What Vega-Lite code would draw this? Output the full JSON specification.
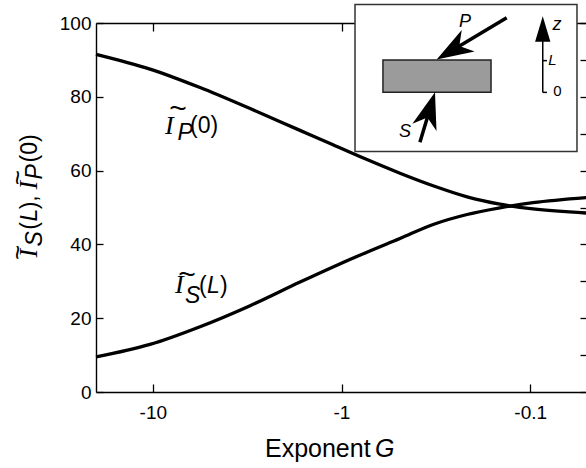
{
  "$schema": "https://vega.github.io/schema/vega-lite/v6.json",
  "width": 491,
  "height": 369,
  "autosize": "none",
  "padding": {"left": 96, "top": 23, "right": 0, "bottom": 76},
  "config": {"view": {"stroke": null}, "font": "Liberation Sans"},
  "resolve": {"axis": {"x": "independent", "y": "independent"}},
  "layer": [
    {
      "encoding": {
        "x": {"field": "G", "type": "quantitative",
          "scale": {"type": "log", "domain": [-20, -0.05], "nice": false},
          "axis": {"orient": "bottom", "title": null, "grid": false,
            "values": [-10, -1, -0.1],
            "labelExpr": "'-' + abs(datum.value)",
            "tickSize": -8,
            "labelPadding": 19, "labelFontSize": 19, "labelFont": "Liberation Sans", "labelColor": "black",
            "labelOverlap": false, "labelFlush": false, "labelBound": false,
            "domainColor": "black", "domainWidth": 1.4, "tickColor": "black", "tickWidth": 1.3}},
        "y": {"field": "v", "type": "quantitative",
          "scale": {"domain": [0, 100], "nice": false, "zero": false},
          "axis": {"orient": "left", "title": null, "grid": false,
            "values": [0, 20, 40, 60, 80, 100],
            "tickSize": -7,
            "labelPadding": 12, "labelFontSize": 19, "labelFont": "Liberation Sans", "labelColor": "black",
            "labelOverlap": false,
            "domainColor": "black", "domainWidth": 1.4, "tickColor": "black", "tickWidth": 1.3}}
      },
      "layer": [
        {
          "data": {"values": [
            {"G": -9}, {"G": -8}, {"G": -7}, {"G": -6}, {"G": -5}, {"G": -4}, {"G": -3}, {"G": -2},
            {"G": -0.9}, {"G": -0.8}, {"G": -0.7}, {"G": -0.6}, {"G": -0.5}, {"G": -0.4}, {"G": -0.3}, {"G": -0.2},
            {"G": -0.09}, {"G": -0.08}, {"G": -0.07}, {"G": -0.06}]},
          "mark": {"type": "rule", "color": "black", "strokeWidth": 1.3},
          "encoding": {"y": {"datum": 0}, "y2": {"datum": 1.36}}
        },
        {
          "data": {"values": [
            {"G": -9}, {"G": -8}, {"G": -7}, {"G": -6}, {"G": -5}, {"G": -4}, {"G": -3}, {"G": -2},
            {"G": -0.9}, {"G": -0.8}, {"G": -0.7}, {"G": -0.6}, {"G": -0.5}, {"G": -0.4}, {"G": -0.3}, {"G": -0.2},
            {"G": -0.09}, {"G": -0.08}, {"G": -0.07}, {"G": -0.06}]},
          "mark": {"type": "rule", "color": "black", "strokeWidth": 1.3},
          "encoding": {"y": {"datum": 100}, "y2": {"datum": 98.64}}
        },
        {
          "data": {"values": [{"v": 10}, {"v": 30}, {"v": 50}, {"v": 70}, {"v": 90}]},
          "mark": {"type": "rule", "color": "black", "strokeWidth": 1.3},
          "encoding": {"x": {"datum": -20}, "x2": {"datum": -19.05}}
        },
        {
          "data": {"values": [
            {"s": "P", "G": -20, "v": 91.5}, {"s": "P", "G": -10.35, "v": 87.5}, {"s": "P", "G": -5.62, "v": 82.5},
            {"s": "P", "G": -3.05, "v": 76.8}, {"s": "P", "G": -1.659, "v": 70.9}, {"s": "P", "G": -1.109, "v": 67.0},
            {"s": "P", "G": -0.733, "v": 63.0}, {"s": "P", "G": -0.49, "v": 59.3}, {"s": "P", "G": -0.327, "v": 55.9},
            {"s": "P", "G": -0.216, "v": 52.9}, {"s": "P", "G": -0.1446, "v": 50.9}, {"s": "P", "G": -0.0966, "v": 49.6},
            {"s": "P", "G": -0.05, "v": 48.5},
            {"s": "S", "G": -20, "v": 9.5}, {"s": "S", "G": -10.35, "v": 12.9}, {"s": "S", "G": -5.62, "v": 17.7},
            {"s": "S", "G": -3.05, "v": 23.4}, {"s": "S", "G": -1.659, "v": 29.8}, {"s": "S", "G": -1.109, "v": 33.9},
            {"s": "S", "G": -0.733, "v": 37.9}, {"s": "S", "G": -0.49, "v": 41.6}, {"s": "S", "G": -0.327, "v": 45.4},
            {"s": "S", "G": -0.216, "v": 48.1}, {"s": "S", "G": -0.1446, "v": 49.9}, {"s": "S", "G": -0.0966, "v": 51.3},
            {"s": "S", "G": -0.05, "v": 52.7}
          ]},
          "mark": {"type": "line", "color": "black", "strokeWidth": 3.3, "interpolate": "monotone"},
          "encoding": {"detail": {"field": "s"}}
        },
        {
          "data": {"values": [{"G": -8.62, "v": 69.8, "t": "I"}, {"G": -7.63, "v": 26.7, "t": "I"}]},
          "mark": {"type": "text", "font": "Liberation Serif", "fontStyle": "italic", "fontSize": 26, "align": "left", "baseline": "alphabetic", "color": "black"},
          "encoding": {"text": {"field": "t"}}
        },
        {
          "data": {"values": [
            {"G": -7.4, "v": 68.4, "t": "P"}, {"G": -6.75, "v": 24.25, "t": "S"},
            {"G": -5.16, "v": 26.96, "t": "L"}]},
          "mark": {"type": "text", "font": "Liberation Sans", "fontStyle": "italic", "fontSize": 23, "align": "left", "baseline": "alphabetic", "color": "black"},
          "encoding": {"text": {"field": "t"}}
        },
        {
          "data": {"values": [
            {"G": -6.35, "v": 70.3, "t": "(0)"}, {"G": -5.69, "v": 26.96, "t": "("},
            {"G": -4.41, "v": 26.96, "t": ")"}]},
          "mark": {"type": "text", "font": "Liberation Sans", "fontSize": 23, "align": "left", "baseline": "alphabetic", "color": "black"},
          "encoding": {"text": {"field": "t"}}
        },
        {
          "data": {"values": [{"G": -2.544, "v": -17.75, "t": "Exponent"}]},
          "mark": {"type": "text", "font": "Liberation Sans", "fontSize": 25, "align": "left", "baseline": "alphabetic", "color": "black"},
          "encoding": {"text": {"field": "t"}}
        },
        {
          "data": {"values": [{"G": -0.6644, "v": -17.75, "t": "G"}]},
          "mark": {"type": "text", "font": "Liberation Sans", "fontStyle": "italic", "fontSize": 25, "align": "left", "baseline": "alphabetic", "color": "black"},
          "encoding": {"text": {"field": "t"}}
        },
        {
          "data": {"values": [{"G": -7.35, "v": 76.6, "t": "~"}, {"G": -6.59, "v": 31.6, "t": "~"}]},
          "mark": {"type": "text", "font": "Liberation Sans", "fontSize": 30, "align": "center", "baseline": "middle", "color": "black"},
          "encoding": {"text": {"field": "t"}}
        },
        {
          "data": {"values": [{"G": -41.1, "v": 36.45, "t": "I"}, {"G": -41.1, "v": 54.9, "t": "I"}]},
          "mark": {"type": "text", "angle": 270, "font": "Liberation Serif", "fontStyle": "italic", "fontSize": 26, "align": "left", "baseline": "alphabetic", "color": "black"},
          "encoding": {"text": {"field": "t"}}
        },
        {
          "data": {"values": [{"G": -38.7, "v": 39.4, "t": "S"}, {"G": -41.1, "v": 46.2, "t": "L"}, {"G": -38.7, "v": 57.6, "t": "P"}]},
          "mark": {"type": "text", "angle": 270, "font": "Liberation Sans", "fontStyle": "italic", "fontSize": 23, "align": "left", "baseline": "alphabetic", "color": "black"},
          "encoding": {"text": {"field": "t"}}
        },
        {
          "data": {"values": [{"G": -41.1, "v": 44.0, "t": "("}, {"G": -41.1, "v": 49.5, "t": "),"}, {"G": -41.1, "v": 62.2, "t": "(0)"}]},
          "mark": {"type": "text", "angle": 270, "font": "Liberation Sans", "fontSize": 23, "align": "left", "baseline": "alphabetic", "color": "black"},
          "encoding": {"text": {"field": "t"}}
        },
        {
          "data": {"values": [{"G": -52.0, "v": 37.8, "t": "~"}, {"G": -52.0, "v": 58.1, "t": "~"}]},
          "mark": {"type": "text", "angle": 270, "font": "Liberation Sans", "fontSize": 26, "align": "center", "baseline": "middle", "color": "black"},
          "encoding": {"text": {"field": "t"}}
        }
      ]
    },
    {
      "encoding": {
        "x": {"field": "G", "type": "quantitative",
          "scale": {"type": "log", "domain": [-20, -0.05], "nice": false},
          "axis": {"orient": "top", "title": null, "grid": false, "labels": false,
            "values": [-10, -1, -0.1],
            "tickSize": -8,
            "domainColor": "black", "domainWidth": 1.4, "tickColor": "black", "tickWidth": 1.3}},
        "y": {"field": "v", "type": "quantitative",
          "scale": {"domain": [0, 100], "nice": false, "zero": false},
          "axis": {"orient": "right", "title": null, "grid": false, "labels": false,
            "values": [0, 10, 20, 30, 40, 50, 60, 70, 80, 90, 100],
            "tickSize": -7,
            "domainColor": "black", "domainWidth": 1.4, "tickColor": "black", "tickWidth": 1.3}}
      },
      "layer": [
        {
          "data": {"values": [{"G": -0.848, "G2": -0.0565, "v": 65.2, "v2": 105.0}]},
          "mark": {"type": "rect", "fill": "white", "stroke": "#333333", "strokeWidth": 1.5},
          "encoding": {"x2": {"field": "G2"}, "y2": {"field": "v2"}}
        },
        {
          "data": {"values": [{"G": -0.603, "G2": -0.1613, "v": 81.2, "v2": 90.0}]},
          "mark": {"type": "rect", "fill": "#9b9b9b", "stroke": "#222222", "strokeWidth": 1.5},
          "encoding": {"x2": {"field": "G2"}, "y2": {"field": "v2"}}
        },
        {
          "data": {"values": [
            {"G": -0.1332, "v": 101.4, "G2": -0.2877, "v2": 91.2},
            {"G": -0.384, "v": 67.7, "G2": -0.3287, "v2": 79.2}]},
          "mark": {"type": "rule", "color": "black", "strokeWidth": 3.5},
          "encoding": {"x2": {"field": "G2"}, "y2": {"field": "v2"}}
        },
        {
          "data": {"values": [
            {"G": -0.0858, "v": 81.2, "G2": -0.0858, "v2": 99.6},
            {"G": -0.0858, "v": 89.8, "G2": -0.0815, "v2": 89.8},
            {"G": -0.0858, "v": 81.2, "G2": -0.0815, "v2": 81.2}]},
          "mark": {"type": "rule", "color": "black", "strokeWidth": 1.5},
          "encoding": {"x2": {"field": "G2"}, "y2": {"field": "v2"}}
        },
        {
          "data": {"values": [{"G": -0.313, "v": 90.1}]},
          "mark": {"type": "point", "shape": "M0,0 L0.55,1.6 L0,1.15 L-0.55,1.6 Z", "filled": true, "size": 2100, "color": "black", "opacity": 1, "angle": 239.2},
          "encoding": {}
        },
        {
          "data": {"values": [{"G": -0.3196, "v": 81.2}]},
          "mark": {"type": "point", "shape": "M0,0 L0.55,1.6 L0,1.15 L-0.55,1.6 Z", "filled": true, "size": 2100, "color": "black", "opacity": 1, "angle": 16.7},
          "encoding": {}
        },
        {
          "data": {"values": [{"G": -0.0858, "v": 101.8}]},
          "mark": {"type": "point", "shape": "M0,0 L0.6,2 L-0.6,2 Z", "filled": true, "size": 650, "color": "black", "opacity": 1},
          "encoding": {}
        },
        {
          "data": {"values": [{"G": -0.2216, "v": 98.8, "t": "P"}, {"G": -0.461, "v": 69.2, "t": "S"}, {"G": -0.0721, "v": 98.2, "t": "z"}]},
          "mark": {"type": "text", "font": "Liberation Sans", "fontStyle": "italic", "fontSize": 18, "align": "center", "baseline": "alphabetic", "color": "black"},
          "encoding": {"text": {"field": "t"}}
        },
        {
          "data": {"values": [{"G": -0.0762, "v": 88.5, "t": "L"}]},
          "mark": {"type": "text", "font": "Liberation Sans", "fontStyle": "italic", "fontSize": 15, "align": "center", "baseline": "alphabetic", "color": "black"},
          "encoding": {"text": {"field": "t"}}
        },
        {
          "data": {"values": [{"G": -0.0717, "v": 80.1, "t": "0"}]},
          "mark": {"type": "text", "font": "Liberation Sans", "fontSize": 15, "align": "center", "baseline": "alphabetic", "color": "black"},
          "encoding": {"text": {"field": "t"}}
        }
      ]
    }
  ]
}
